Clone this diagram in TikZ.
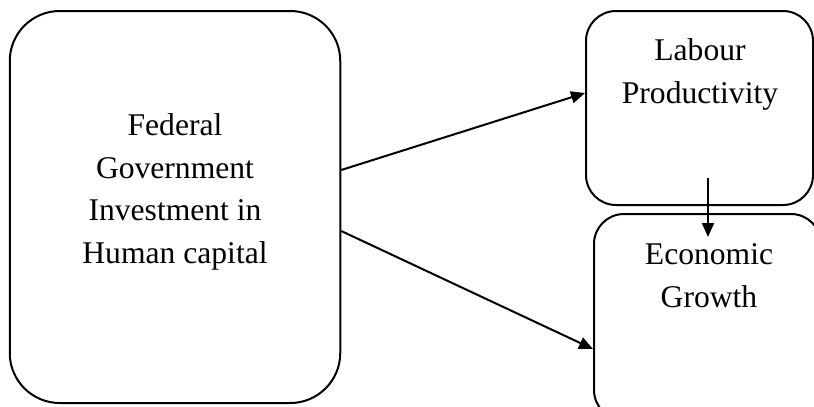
\documentclass[tikz,border=0pt]{standalone}
\usepackage{fontspec}
\setmainfont{Liberation Serif}
\usetikzlibrary{arrows.meta}
\begin{document}
\begin{tikzpicture}[x=1pt,y=-1pt,
  box/.style={draw, line width=2pt, rounded corners=#1, inner sep=0pt},
  lbl/.style={align=center, font=\fontsize{31.6}{42.5}\selectfont, anchor=base, inner sep=0pt},
  arr/.style={line width=2pt, -{Triangle[length=14pt,width=12pt]}}]
\useasboundingbox (0,0) rectangle (814,407);
\node[box=50pt, minimum width=330.5pt, minimum height=392pt] (L) at (175,207) {};
\node[box=30pt, minimum width=227pt, minimum height=194pt] (T) at (699.5,108) {};
\node[box=30pt, minimum width=227pt, minimum height=206pt] (B) at (707.5,317) {};
\node[lbl] (Ltxt) at (175,263) {Federal\\Government\\Investment in\\Human capital};
\node[lbl] (Ttxt) at (700,103) {Labour\\Productivity};
\node[lbl] (Btxt) at (709,307) {Economic\\Growth};
\draw[arr] ([yshift=37pt]L.east) -- ([yshift=15pt]T.west);
\draw[arr] ([yshift=-24pt]L.east) -- ([yshift=-32pt]B.west);
\draw[arr] ([xshift=8.5pt,yshift=28pt]T.south) -- ([xshift=0.5pt,yshift=-24pt]B.north);
\end{tikzpicture}
\end{document}
